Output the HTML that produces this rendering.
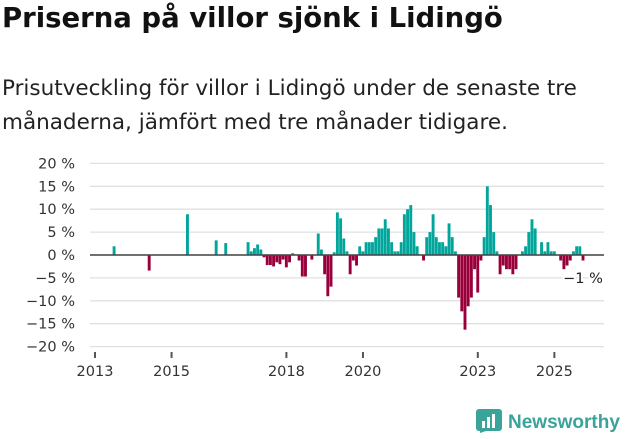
<!DOCTYPE html>
<html><head><meta charset="utf-8"><style>
body{margin:0;width:631px;height:439px;background:#fff;font-family:"DejaVu Sans","Liberation Sans",sans-serif;overflow:hidden;position:relative}
h1{position:absolute;left:2px;top:2px;margin:0;font-size:27.5px;font-weight:bold;color:#111;white-space:nowrap}
p{position:absolute;left:2px;top:72px;margin:0;font-size:21.5px;line-height:34px;color:#222;width:600px}
</style></head><body>
<h1>Priserna på villor sjönk i Lidingö</h1>
<p>Prisutveckling för villor i Lidingö under de senaste tre<br>månaderna, jämfört med tre månader tidigare.</p>
<svg id="chart" width="631" height="439" style="position:absolute;left:0;top:0"></svg>
<div style="position:absolute;left:476px;top:409px;display:flex;align-items:center">
<svg width="26" height="27"><rect x="0" y="0" width="26" height="22" rx="3" fill="#3aa39a"/><path d="M4 24 L4 22 L10 22 Z" fill="#3aa39a"/><rect x="6" y="12" width="3" height="7" fill="#fff"/><rect x="11" y="8" width="3" height="11" fill="#fff"/><rect x="16" y="5" width="3" height="14" fill="#fff"/></svg>
<span style="margin-left:6px;font-family:'Liberation Sans',sans-serif;font-size:19px;font-weight:bold;color:#3aa39a">Newsworthy</span></div>
<script>
const months=[6,17,29,38,41,48,49,50,51,52,53,54,55,56,57,58,59,60,61,62,64,65,66,68,70,71,72,73,74,75,76,77,78,79,80,81,82,83,84,85,86,87,88,89,90,91,92,93,94,95,96,97,98,99,100,101,103,104,105,106,107,108,109,110,111,112,113,114,115,116,117,118,119,120,121,122,123,124,125,126,127,128,129,130,131,132,134,135,136,137,138,140,141,142,143,144,146,147,148,149,150,151,152,153];
const values=[1.9,-3.4,8.9,3.2,2.6,2.8,0.8,1.5,2.3,1.2,-0.5,-2.2,-2.2,-2.5,-1.6,-2,-1,-2.7,-1.6,0.4,-1.2,-4.7,-4.7,-1,4.7,1.2,-4.2,-9,-6.9,0.6,9.3,8,3.6,0.8,-4.2,-1.2,-2.3,1.9,0.8,2.8,2.8,2.8,3.9,5.8,5.8,7.8,5.8,2.8,0.8,0.8,2.8,8.9,10,10.9,5,1.9,-1.2,3.9,5,8.9,3.9,2.8,2.8,1.9,6.9,3.9,0.8,-9.3,-12.3,-16.3,-11.2,-9.3,-3.1,-8.2,-1.2,3.9,15,10.9,5,0.8,-4.2,-2.3,-3.1,-3.1,-4.2,-3.1,0.8,1.9,5,7.8,5.8,2.8,0.8,2.8,0.8,0.8,-1.2,-3.1,-2.3,-1.2,0.8,1.9,1.9,-1.2];
const yTicks=[20,15,10,5,0,-5,-10,-15,-20];
const xYears=[2013,2015,2018,2020,2023,2025];
const lastLabel="−1 %";
const NS="http://www.w3.org/2000/svg",svg=document.getElementById('chart');
const y=v=>255-v*4.58, x=m=>95+m*3.19;
function mk(t,a){const e=document.createElementNS(NS,t);for(const k in a)e.setAttribute(k,a[k]);svg.appendChild(e);return e;}
yTicks.forEach(t=>{
const g=mk('line',{x1:90,x2:604,y1:y(t),y2:y(t),stroke:'#e0e0e0','stroke-width':1.3});


const l=mk('text',{x:75,y:y(t)+5,'text-anchor':'end','font-size':14.5,fill:'#333'});
l.textContent=(t<0?'−'+(-t):t)+' %';


});
months.forEach((m,i)=>{const v=values[i];
const b=mk('rect',{x:x(m)-1.5,width:2.9,y:Math.min(y(v),y(0)),height:Math.abs(y(v)-y(0)),fill:v>=0?'#00a69b':'#99003b'});


});
const z=mk('line',{x1:90,x2:604,y1:y(0),y2:y(0),stroke:'#444','stroke-width':1.6});


xYears.forEach(yr=>{const xx=x((yr-2013)*12);
const t=mk('line',{x1:xx,x2:xx,y1:352,y2:358,stroke:'#555','stroke-width':2});


const l=mk('text',{x:xx,y:376,'text-anchor':'middle','font-size':14.5,fill:'#333'});
l.textContent=yr;


});
const ll=mk('text',{x:583,y:283,'text-anchor':'middle','font-size':14.5,fill:'#222',stroke:'#fff','stroke-width':4,'paint-order':'stroke'});
ll.textContent=lastLabel;


</script>
</body></html>
